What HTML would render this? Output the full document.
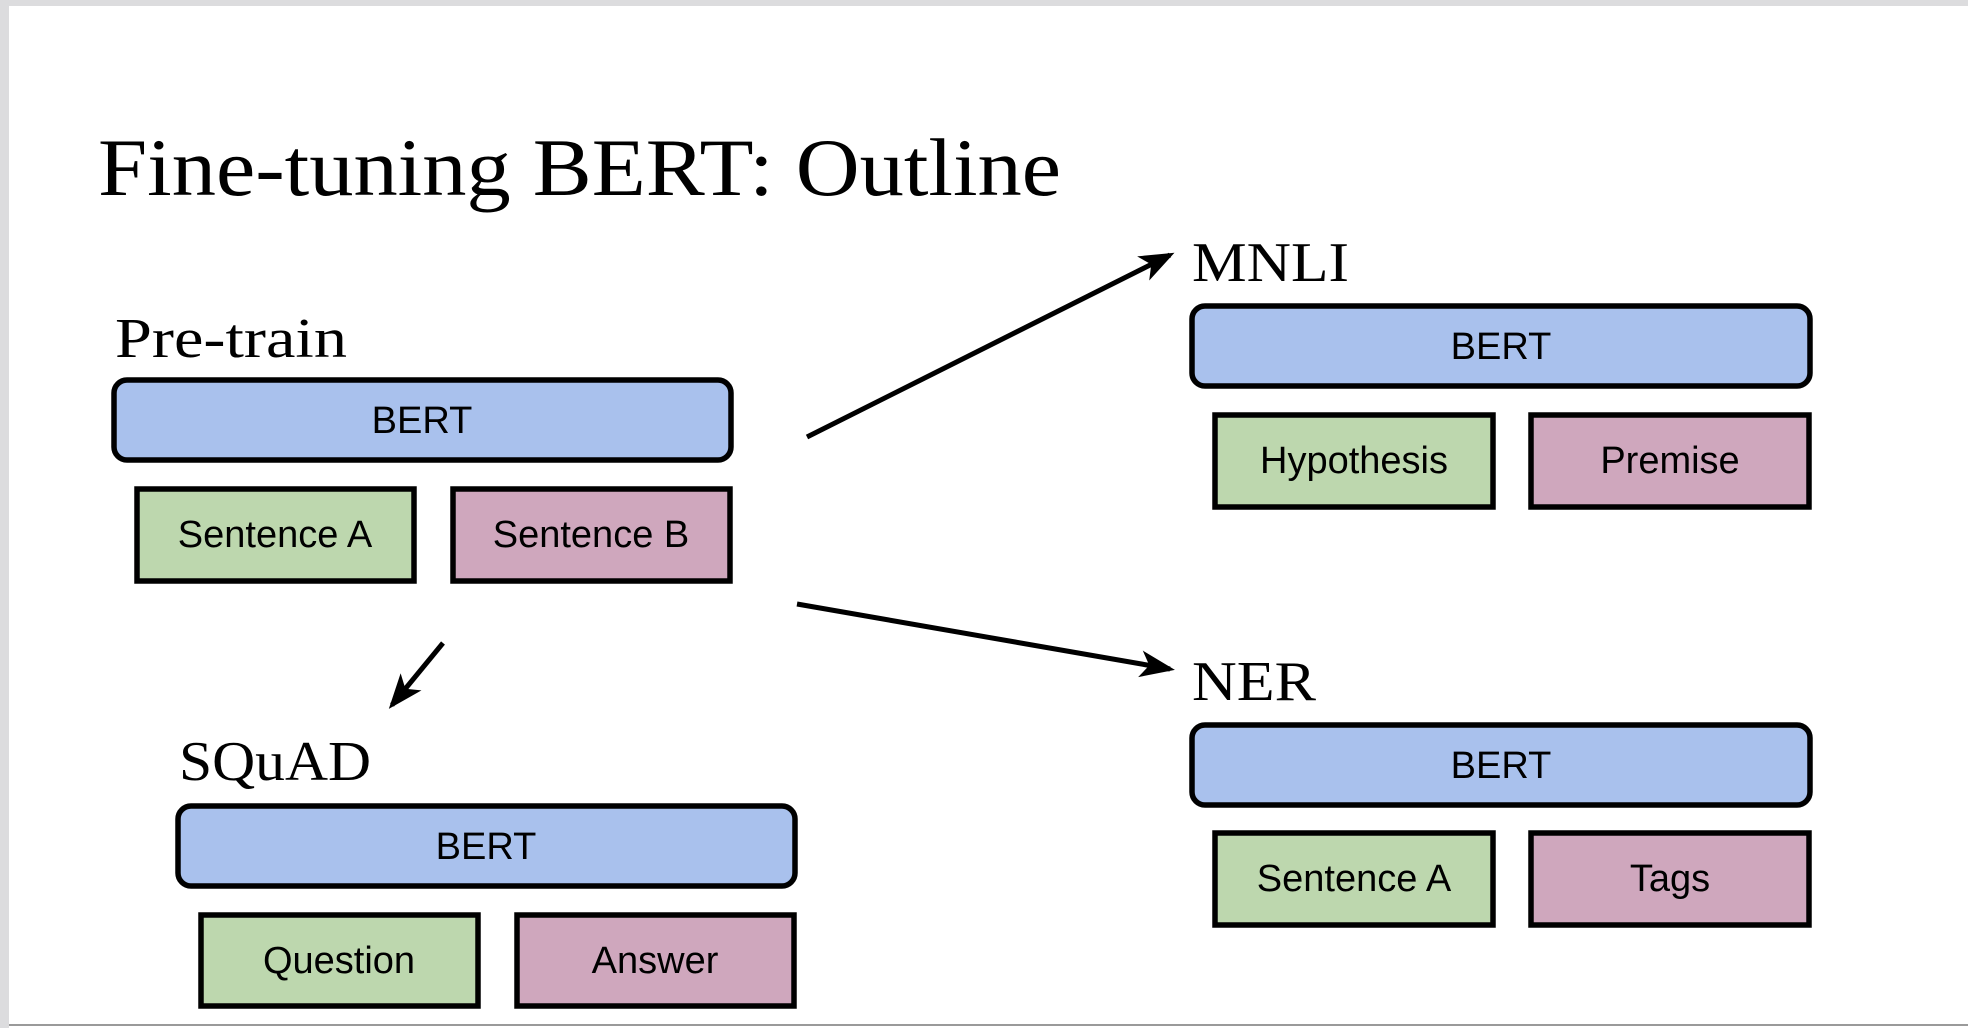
<!DOCTYPE html>
<html><head><style>
html,body{margin:0;padding:0;background:#fff;}
svg{display:block;}
</style></head><body>
<svg width="1968" height="1028" viewBox="0 0 1968 1028" xmlns="http://www.w3.org/2000/svg">
<defs>
<marker id="ah" markerWidth="7" markerHeight="7" refX="6" refY="3.5" orient="auto" markerUnits="strokeWidth">
<path d="M0,0.8 L7,3.5 L0,6.2 L1.8,3.5 Z" fill="#000"/>
</marker>
</defs>
<rect x="0" y="0" width="1968" height="1028" fill="#fff"/>
<rect x="0" y="0" width="1968" height="6" fill="#dcdcde"/>
<rect x="0" y="0" width="9" height="1028" fill="#dcdcde"/>
<rect x="9" y="1024" width="1959" height="2" fill="#9a9a9a"/>

<g font-family="'Liberation Serif', serif" fill="#000">
<text x="98" y="195" font-size="82" textLength="963" lengthAdjust="spacingAndGlyphs">Fine-tuning BERT: Outline</text>
<text x="115" y="357" font-size="56" textLength="232" lengthAdjust="spacingAndGlyphs">Pre-train</text>
<text x="1192" y="281" font-size="56" textLength="157" lengthAdjust="spacingAndGlyphs">MNLI</text>
<text x="1192" y="700" font-size="56" textLength="124" lengthAdjust="spacingAndGlyphs">NER</text>
<text x="179" y="780" font-size="56" textLength="192" lengthAdjust="spacingAndGlyphs">SQuAD</text>
</g>

<g stroke="#000" stroke-width="5" fill="none">
<line x1="807" y1="437" x2="1170" y2="255" marker-end="url(#ah)"/>
<line x1="797" y1="604" x2="1170" y2="669" marker-end="url(#ah)"/>
<line x1="443" y1="643" x2="392" y2="705" marker-end="url(#ah)"/>
</g>

<g stroke="#000" stroke-width="5.5" font-family="'Liberation Sans', sans-serif" font-size="36" text-anchor="middle">
<rect x="114" y="380" width="617" height="80" rx="13" fill="#a9c1ed"/>
<rect x="137" y="489" width="277" height="92" fill="#bdd7ae"/>
<rect x="453" y="489" width="277" height="92" fill="#cfa7bd"/>
<rect x="1192" y="306" width="618" height="80" rx="13" fill="#a9c1ed"/>
<rect x="1215" y="415" width="278" height="92" fill="#bdd7ae"/>
<rect x="1531" y="415" width="278" height="92" fill="#cfa7bd"/>
<rect x="1192" y="725" width="618" height="80" rx="13" fill="#a9c1ed"/>
<rect x="1215" y="833" width="278" height="92" fill="#bdd7ae"/>
<rect x="1531" y="833" width="278" height="92" fill="#cfa7bd"/>
<rect x="178" y="806" width="617" height="80" rx="13" fill="#a9c1ed"/>
<rect x="201" y="915" width="277" height="91" fill="#bdd7ae"/>
<rect x="517" y="915" width="277" height="91" fill="#cfa7bd"/>
</g>

<g fill="#000" font-family="'Liberation Sans', sans-serif" font-size="38" text-anchor="middle">
<text x="422" y="433">BERT</text>
<text x="275" y="547">Sentence A</text>
<text x="591" y="547">Sentence B</text>
<text x="1501" y="359">BERT</text>
<text x="1354" y="473">Hypothesis</text>
<text x="1670" y="473">Premise</text>
<text x="1501" y="778">BERT</text>
<text x="1354" y="891">Sentence A</text>
<text x="1670" y="891">Tags</text>
<text x="486" y="859">BERT</text>
<text x="339" y="973">Question</text>
<text x="655" y="973">Answer</text>
</g>
</svg>
</body></html>
